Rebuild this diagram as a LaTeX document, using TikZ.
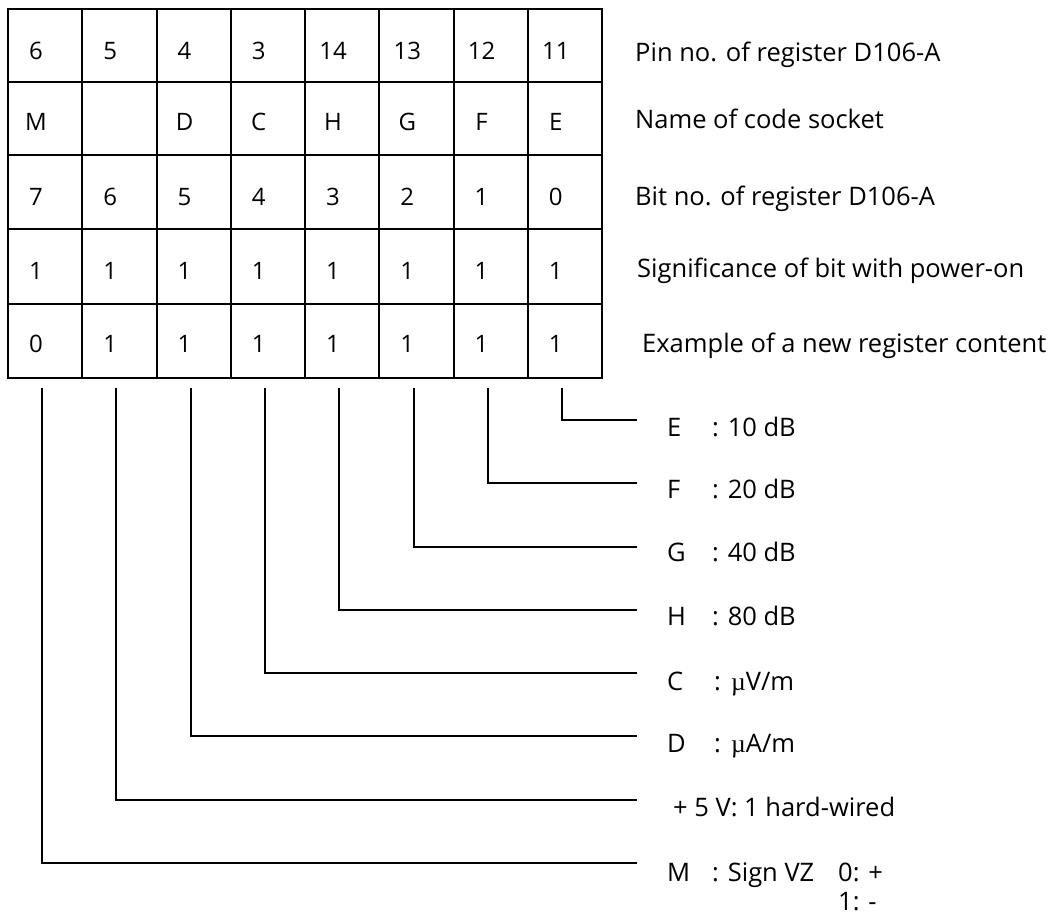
\documentclass[tikz,border=0pt]{standalone}
\usepackage{fontspec}
\setmainfont{Open Sans}
\newfontfamily\mufont{Liberation Serif}
\begin{document}
\begin{tikzpicture}[x=1pt,y=-1pt,
  gridline/.style={line width=2pt},
  wire/.style={line width=2pt},
  celltext/.style={font=\fontsize{24}{28}\selectfont, inner sep=0pt, anchor=base},
  rowlabel/.style={font=\fontsize{25.5}{28}\selectfont, inner sep=0pt, anchor=base west},
  keylabel/.style={font=\fontsize{25.5}{28}\selectfont, inner sep=0pt, anchor=base west}]
\useasboundingbox (0,0) rectangle (1058,915);
% grid
\draw[gridline] (8,9) rectangle (602,378);
\foreach \i in {1,...,7} \draw[gridline] ({8+74.25*\i},9) -- ({8+74.25*\i},378);
\foreach \y in {82,155,229,304} \draw[gridline] (8,\y) -- (602,\y);
% cell texts
\foreach \r/\y/\list in {1/60/{6,5,4,3,14,13,12,11},2/131/{M,,D,C,H,G,F,E},3/205/{7,6,5,4,3,2,1,0},4/279/{1,1,1,1,1,1,1,1},5/352/{0,1,1,1,1,1,1,1}}{
  \foreach \t [count=\c] in \list
    \node[celltext] (t-\r-\c) at ({36+74.25*(\c-1)},\y) {\t};
}
% row labels
\node[rowlabel] (lab1) at (635,62) {Pin no. of register D106-A};
\node[rowlabel] (lab2) at (635,129) {Name of code socket};
\node[rowlabel] (lab3) at (635,205) {Bit no. of register D106-A};
\node[rowlabel] (lab4) at (637,277) {Significance of bit with power-on};
\node[rowlabel] (lab5) at (642,352) {Example of a new register content};
% wires
\foreach \k in {1,...,8}{
  \coordinate (top-\k) at ({42+74.3*(\k-1)},388);
  \coordinate (end-\k) at (637,{420+63.25*(8-\k)});
  \draw[wire] (top-\k) |- (end-\k);
}
% key labels
\node[keylabel] (kE) at (667,436) {E};
\node[keylabel] (vE) at (712,436) {: 10 dB};
\node[keylabel] (kF) at (667,498) {F};
\node[keylabel] (vF) at (712,498) {: 20 dB};
\node[keylabel] (kG) at (667,561) {G};
\node[keylabel] (vG) at (712,561) {: 40 dB};
\node[keylabel] (kH) at (667,625) {H};
\node[keylabel] (vH) at (712,625) {: 80 dB};
\node[keylabel] (kC) at (667,690) {C};
\node[keylabel] (vC) at (714,690) {:\hspace{0.4em}{\mufont µ}V/m};
\node[keylabel] (kD) at (667,752) {D};
\node[keylabel] (vD) at (714,752) {:\hspace{0.4em}{\mufont µ}A/m};
\node[keylabel] (k5) at (673,816) {+ 5 V: 1 hard-wired};
\node[keylabel] (kM) at (667,881) {M};
\node[keylabel] (vM) at (712,881) {: Sign VZ};
\node[keylabel] (vM0) at (838,881) {0: +};
\node[keylabel] (vM1) at (838,910) {1: -};
\end{tikzpicture}
\end{document}
